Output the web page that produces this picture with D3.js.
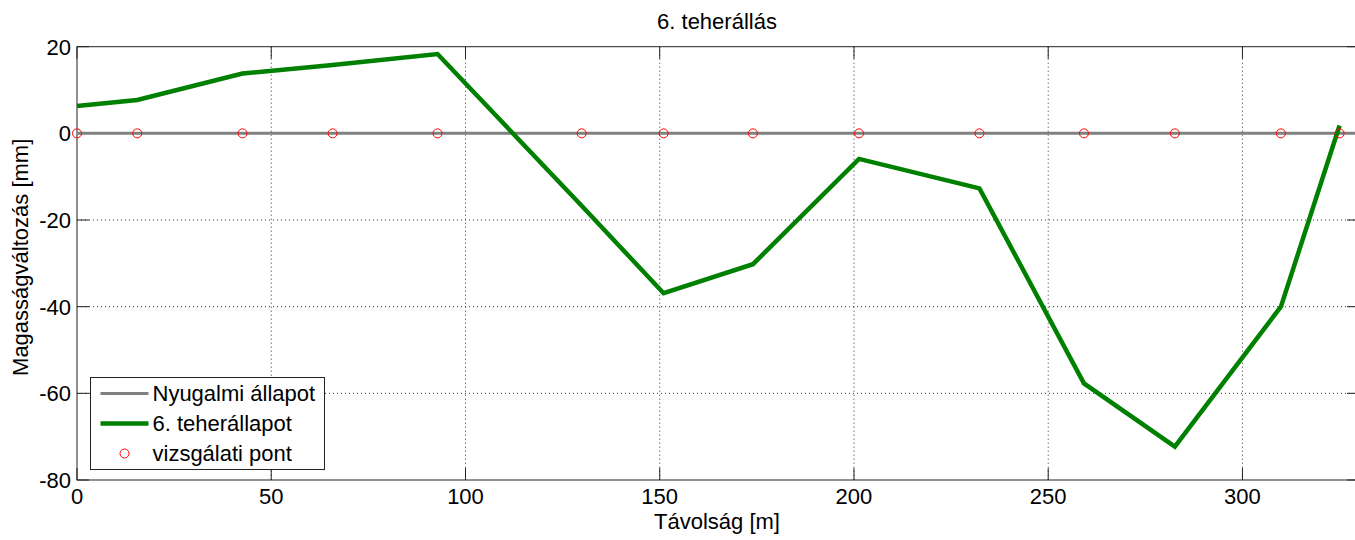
<!DOCTYPE html>
<html>
<head>
<meta charset="utf-8">
<script src="https://cdn.jsdelivr.net/npm/d3@7"></script>
<style>
  body { margin: 0; background: #fff; }
  text { font-family: "Liberation Sans", Arial, sans-serif; fill: #000; }
</style>
</head>
<body>
<div id="chart"></div>
<script>
const width = 1355;
const height = 540;
const margin = { top: 46.7, right: -4, bottom: 60, left: 77 };

// distance of the test points [m]
const distances = [0, 15.5, 42.6, 65.8, 92.8, 129.9, 151.0, 174.0, 201.3, 232.3, 259.2, 282.6, 309.9, 325];
// 6. load case, change of height [mm]
const loadValues = [6.3, 7.7, 13.8, 15.8, 18.3, -16.7, -36.9, -30.2, -5.9, -12.7, -57.7, -72.3, -40.0, 1.8];
// resting state
const restX = [0, 330];
const restValues = [0, 0];

const xTicks = [0, 50, 100, 150, 200, 250, 300];
const yTicks = [20, 0, -20, -40, -60, -80];
const legendItems = ["Nyugalmi állapot", "6. teherállapot", "vizsgálati pont"];

const fontSize = "22px";
const innerW = width - margin.left - margin.right;
const innerH = height - margin.top - margin.bottom;

const svg = d3.select("#chart")
    .append("svg")
    .attr("width", width)
    .attr("height", height);

const x = d3.scaleLinear().domain([0, 330]).range([0, innerW]);
const y = d3.scaleLinear().domain([-80, 20]).range([innerH, 0]);

const g = svg.append("g")
    .attr("transform", `translate(${margin.left},${margin.top})`);

// grid
g.selectAll(".vgrid")
    .data(xTicks.filter(d => d > 0))
    .enter().append("line")
    .attr("x1", d => x(d)).attr("x2", d => x(d))
    .attr("y1", 0).attr("y2", innerH)
    .style("stroke", "#333")
    .style("stroke-width", 1)
    .style("stroke-dasharray", "1,3");

g.selectAll(".hgrid")
    .data(yTicks.filter(d => d > -80 && d < 20))
    .enter().append("line")
    .attr("x1", 0).attr("x2", innerW)
    .attr("y1", d => y(d)).attr("y2", d => y(d))
    .style("stroke", "#333")
    .style("stroke-width", 1)
    .style("stroke-dasharray", "1,3");

// axes box
g.append("rect")
    .attr("width", innerW).attr("height", innerH)
    .style("fill", "none")
    .style("stroke", "#222")
    .style("stroke-width", 1);

const tickLen = 12;
xTicks.forEach(t => {
    g.append("line").attr("x1", x(t)).attr("x2", x(t)).attr("y1", innerH).attr("y2", innerH - tickLen).style("stroke", "#222");
    g.append("line").attr("x1", x(t)).attr("x2", x(t)).attr("y1", 0).attr("y2", tickLen).style("stroke", "#222");
});
yTicks.forEach(t => {
    g.append("line").attr("x1", 0).attr("x2", tickLen).attr("y1", y(t)).attr("y2", y(t)).style("stroke", "#222");
    g.append("line").attr("x1", innerW).attr("x2", innerW - tickLen).attr("y1", y(t)).attr("y2", y(t)).style("stroke", "#222");
});

// tick labels
g.selectAll(".xlab")
    .data(xTicks)
    .enter().append("text")
    .attr("x", d => x(d))
    .attr("y", innerH + 24)
    .style("font-size", fontSize)
    .style("text-anchor", "middle")
    .text(d => d);

g.selectAll(".ylab")
    .data(yTicks)
    .enter().append("text")
    .attr("x", -6)
    .attr("y", d => y(d))
    .attr("dy", "0.36em")
    .style("font-size", fontSize)
    .style("text-anchor", "end")
    .text(d => d);

// titles
svg.append("text")
    .attr("x", 717)
    .attr("y", 29)
    .style("font-size", fontSize)
    .style("text-anchor", "middle")
    .text("6. teherállás");

svg.append("text")
    .attr("x", 717)
    .attr("y", 529)
    .style("font-size", fontSize)
    .style("text-anchor", "middle")
    .text("Távolság [m]");

svg.append("text")
    .attr("transform", `translate(28,${margin.top + innerH / 2 - 6}) rotate(-90)`)
    .style("font-size", fontSize)
    .style("text-anchor", "middle")
    .text("Magasságváltozás [mm]");

// data
const line = d3.line().x(d => x(d[0])).y(d => y(d[1]));

g.append("path")
    .datum(d3.zip(restX, restValues))
    .attr("d", line)
    .style("fill", "none")
    .style("stroke", "#808080")
    .style("stroke-width", 3);

g.append("path")
    .datum(d3.zip(distances, loadValues))
    .attr("d", line)
    .style("fill", "none")
    .style("stroke", "#008000")
    .style("stroke-width", 4.5)
    .style("stroke-linejoin", "miter");

g.selectAll(".pt")
    .data(distances)
    .enter().append("circle")
    .attr("cx", d => x(d))
    .attr("cy", y(0))
    .attr("r", 4.5)
    .style("fill", "none")
    .style("stroke", "#ff0000")
    .style("stroke-width", 1);

// legend
const legend = svg.append("g").attr("transform", "translate(90.5,377.5)");
legend.append("rect")
    .attr("width", 234).attr("height", 92)
    .style("fill", "#fff")
    .style("stroke", "#222")
    .style("stroke-width", 1);

legendItems.forEach((name, i) => {
    const cy = 16 + i * 30;
    if (i === 0) {
        legend.append("line").attr("x1", 10).attr("x2", 58).attr("y1", cy).attr("y2", cy)
            .style("stroke", "#808080").style("stroke-width", 3);
    } else if (i === 1) {
        legend.append("line").attr("x1", 10).attr("x2", 58).attr("y1", cy).attr("y2", cy)
            .style("stroke", "#008000").style("stroke-width", 4.5);
    } else {
        legend.append("circle").attr("cx", 34).attr("cy", cy).attr("r", 4.5)
            .style("fill", "none").style("stroke", "#ff0000");
    }
    legend.append("text")
        .attr("x", 62)
        .attr("y", cy)
        .attr("dy", "0.36em")
        .style("font-size", fontSize)
        .text(name);
});
</script>
</body>
</html>
